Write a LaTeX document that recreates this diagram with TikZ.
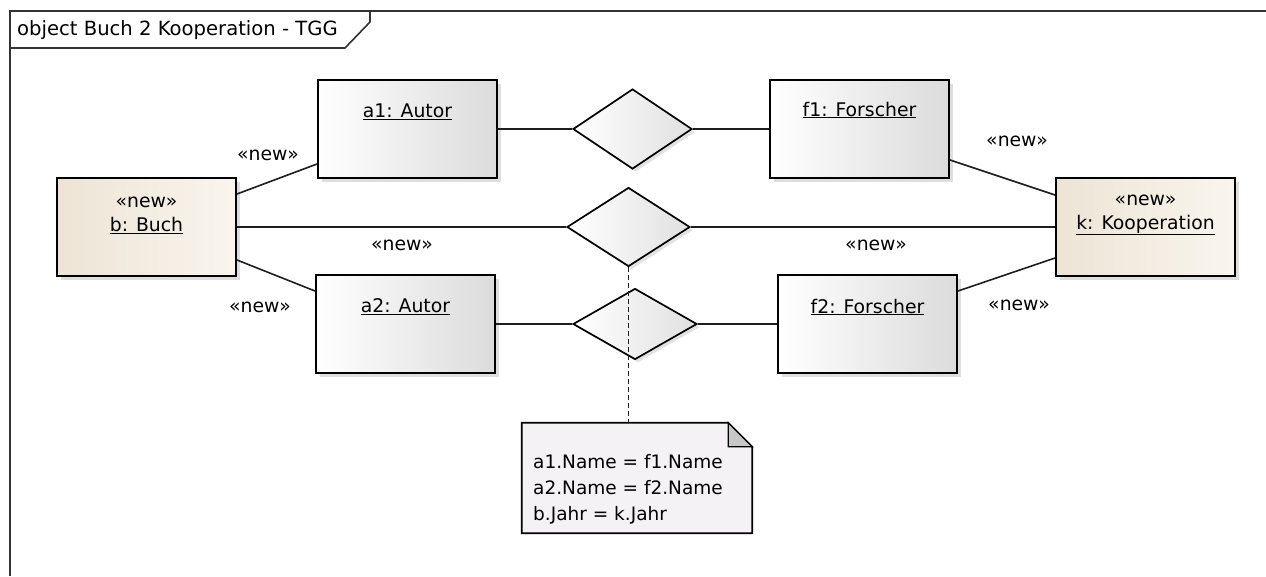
\documentclass[tikz,border=0pt]{standalone}
\usepackage{fontspec}
\setmainfont{DejaVu Sans}
\usetikzlibrary{shapes.geometric,shadows,calc}
\definecolor{beigeL}{RGB}{237,228,213}
\definecolor{beigeM}{RGB}{243,236,225}
\definecolor{beigeR}{RGB}{249,245,238}
\definecolor{notebg}{RGB}{245,242,245}
\definecolor{linec}{RGB}{30,30,30}
\begin{document}
\begin{tikzpicture}[x=1pt,y=-1pt,
  every node/.style={font=\fontsize{18.8}{24}\selectfont},
  objbox/.style={draw=black, line width=2pt, minimum width=179pt, minimum height=98pt,
    inner sep=0pt, left color=white, middle color=white!97!black, right color=black!14,
    drop shadow={shadow xshift=4pt, shadow yshift=-4pt, fill=black!25}},
  newbox/.style={objbox, left color=beigeL, middle color=beigeM, right color=beigeR},
  relbox/.style={diamond, draw=black, line width=1.7pt, inner sep=0pt,
    left color=white, middle color=white!97!black, right color=black!12,
    drop shadow={shadow xshift=3pt, shadow yshift=-3pt, fill=black!22}},
  conn/.style={draw=linec, line width=1.6pt},
  lbl/.style={inner sep=0pt, align=center}
]
\useasboundingbox (0,0) rectangle (1266,576);
\fill[white] (0,0) rectangle (1266,576);

% frame
\draw[line width=2pt, draw=black!80] (10,576) -- (10,11) -- (1266,11);
\draw[line width=1.6pt, draw=black!80] (10,48) -- (345,48) -- (370,22) -- (370,11);
\node[anchor=west, inner sep=0pt, font=\fontsize{19.6}{24}\selectfont] (title) at (17,30) {object Buch 2 Kooperation - TGG};

% objects
\node[newbox] (b)  at (146.5,227) {};
\node[objbox] (a1) at (407.5,129) {};
\node[objbox] (a2) at (405.5,324) {};
\node[objbox] (f1) at (859.5,129) {};
\node[objbox] (f2) at (867.5,324) {};
\node[newbox] (k)  at (1145.5,227) {};

\node[lbl] (bt)  at ($(b.center)+(0,-12)$) {«new»\\\underline{b: Buch}};
\node[lbl] (kt)  at ($(k.center)+(0,-12)$) {«new»\\\underline{k: Kooperation}};
\node[lbl] (a1t) at ($(a1.north)+(0,33)$) {\underline{a1: Autor}};
\node[lbl] (a2t) at ($(a2.north)+(0,33)$) {\underline{a2: Autor}};
\node[lbl] (f1t) at ($(f1.north)+(0,31)$) {\underline{f1: Forscher}};
\node[lbl] (f2t) at ($(f2.north)+(0,33)$) {\underline{f2: Forscher}};

% relations (diamonds)
\node[relbox, minimum width=119pt, minimum height=80pt] (D1) at (632.5,129) {};
\node[relbox, minimum width=123pt, minimum height=79pt] (D2) at (628.5,227) {};
\node[relbox, minimum width=124pt, minimum height=71pt] (D3) at (635,324) {};

% note
\node[minimum width=230pt, minimum height=110pt, inner sep=0pt] (note) at (637,478) {};
\draw[line width=1.7pt, fill=notebg] (note.north west) -- ($(note.north east)+(-24,0)$)
  -- ($(note.north east)+(0,24)$) -- (note.south east) -- (note.south west) -- cycle;
\draw[line width=1.2pt, fill=black!22] ($(note.north east)+(-24,0)$) -- ($(note.north east)+(-24,24)$)
  -- ($(note.north east)+(0,24)$) -- cycle;
\node[anchor=west, align=left, inner sep=0pt, font=\fontsize{18.5}{26}\selectfont] (nt) at (533,489)
  {a1.Name = f1.Name\\a2.Name = f2.Name\\b.Jahr = k.Jahr};

% connectors
\draw[conn] (a1.east) -- (D1.west);
\draw[conn] (D1.east) -- (f1.west);
\draw[conn] (b.east) -- (D2.west);
\draw[conn] (D2.east) -- (k.west);
\draw[conn] (a2.east) -- (D3.west);
\draw[conn] (D3.east) -- (f2.west);
\draw[conn] ($(b.north east)+(0,17)$) -- ($(a1.south west)+(0,-15)$);
\draw[conn] ($(b.south east)+(0,-17)$) -- ($(a2.north west)+(0,17)$);
\draw[conn] ($(f1.south east)+(0,-19)$) -- ($(k.north west)+(0,18)$);
\draw[conn] ($(f2.north east)+(0,17)$) -- ($(k.south west)+(0,-19)$);
\draw[conn, dash pattern=on 5pt off 3pt] (D2.south) -- (D2.south |- note.north);

% stereotype labels
\node[lbl] (l1) at (268,155) {«new»};
\node[lbl] (l2) at (402,245) {«new»};
\node[lbl] (l3) at (876,245) {«new»};
\node[lbl] (l4) at (260,307) {«new»};
\node[lbl] (l5) at (1017,141) {«new»};
\node[lbl] (l6) at (1019,305) {«new»};
\end{tikzpicture}
\end{document}
